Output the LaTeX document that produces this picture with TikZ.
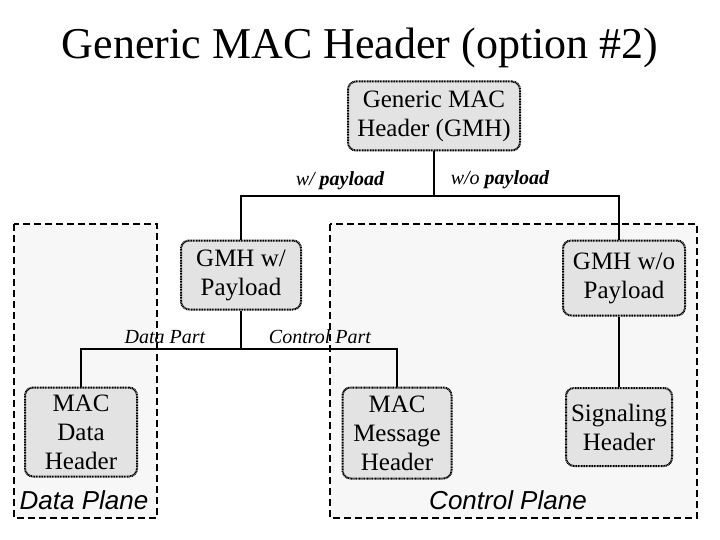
\documentclass[tikz,border=0pt]{standalone}
\usepackage{fontspec}
\setmainfont{Liberation Serif}
\newfontfamily\arialf{Liberation Sans}
\begin{document}
\begin{tikzpicture}[x=1pt,y=-1pt,
 box/.style={draw,fill=gray!22,rounded corners=8pt,line width=2pt,dash pattern=on 1pt off 0.6pt,align=center,font=\fontsize{25}{29}\selectfont,inner sep=0pt},
 lab/.style={font=\fontsize{20}{22}\selectfont\itshape},
 plane/.style={draw,fill=gray!6,line width=2pt,dash pattern=on 7pt off 4pt},
 ln/.style={line width=2.5pt}]
\useasboundingbox (0,0) rectangle (720,540);
\node[font=\fontsize{44}{48}\selectfont] (title) at (360,48) {Generic MAC Header (option \#2)};
\draw[plane] (14,224) rectangle (157,518);
\draw[plane] (330,224) rectangle (697,518);
\node[box,minimum width=172,minimum height=69] (gmh) at (434,116) {Generic MAC\\Header (GMH)};
\node[box,minimum width=120,minimum height=69] (gw) at (241,275) {GMH w/\\Payload};
\node[box,minimum width=122,minimum height=75] (gwo) at (624,278) {GMH w/o\\Payload};
\node[box,minimum width=112,minimum height=89] (mdh) at (81,432) {MAC\\Data\\Header};
\node[box,minimum width=109,minimum height=91] (mmh) at (397,433) {MAC\\Message\\Header};
\node[box,minimum width=106,minimum height=78] (sh) at (619,427) {Signaling\\Header};
\coordinate (j1) at (434,196);
\coordinate (j2) at (241,349);
\draw[ln] (gmh.south) -- (j1);
\draw[ln] (gw.north) |- (j1) -| (sh.north |- gwo.north);
\draw[ln] (gw.south) -- (j2);
\draw[ln] (mdh.north) |- (j2) -| (mmh.north);
\draw[ln] (sh.north |- gwo.south) -- (sh.north);
\node[lab] (l1) at (340,181) {w/ \textbf{payload}};
\node[lab] (l2) at (500,180) {w/o \textbf{payload}};
\node[lab] (l3) at (165,337) {Data Part};
\node[lab] (l4) at (320,337) {Control Part};
\node[font=\fontsize{26}{30}\selectfont\arialf\itshape] (dp) at (84,500) {Data Plane};
\node[font=\fontsize{26}{30}\selectfont\arialf\itshape] (cp) at (508,500) {Control Plane};
\end{tikzpicture}
\end{document}
